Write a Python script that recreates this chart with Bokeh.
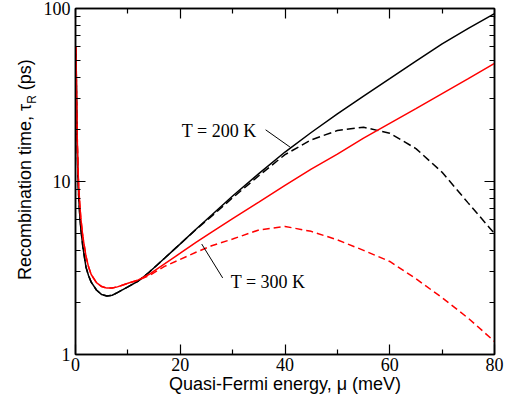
import math
from bokeh.plotting import figure
from bokeh.layouts import row
from bokeh.models import (Range1d, FixedTicker, LogAxis, LinearAxis, Label, Arrow, Div,
                          ColumnDataSource, PrintfTickFormatter, CustomJSTickFormatter)
from bokeh.embed import file_html
from bokeh.resources import INLINE

# Quasi-Fermi energy (meV)
mu = [0.1, 0.2, 0.3, 0.45, 0.6, 0.8, 1.0, 1.4, 2.0, 2.5, 3.0, 4.0, 5.0, 6.0, 7.0, 8.0,
      10, 12, 14, 17, 20, 23, 26, 30, 35, 40, 45, 50, 55, 60, 65, 70, 75, 80]

# Recombination time (ps)
tau_200_solid = [58, 30, 18, 11, 8.3, 6.5, 5.4, 4.2, 3.2, 2.85, 2.62, 2.36, 2.22, 2.18, 2.2, 2.28,
                 2.46, 2.66, 2.98, 3.6, 4.36, 5.3, 6.4, 8.25, 11.1, 14.8, 19.2, 24.6, 31.2, 39.3,
                 49.7, 62.5, 76.7, 93.5]
tau_200_dash = [58, 30, 18, 11, 8.3, 6.5, 5.4, 4.2, 3.2, 2.85, 2.62, 2.36, 2.22, 2.18, 2.2, 2.28,
                2.46, 2.66, 2.98, 3.6, 4.36, 5.28, 6.3, 8.05, 10.8, 14.3, 17.4, 19.7, 20.6, 19.0,
                15.5, 11.3, 7.5, 5.0]
tau_300_solid = [60, 32, 20, 12.5, 9.5, 7.5, 6.2, 4.8, 3.7, 3.2, 2.9, 2.6, 2.47, 2.42, 2.42, 2.46,
                 2.58, 2.7, 2.9, 3.34, 3.85, 4.45, 5.1, 6.1, 7.6, 9.5, 11.8, 14.4, 17.8, 21.7,
                 26.4, 32.2, 39.3, 48.2]
tau_300_dash = [60, 32, 20, 12.5, 9.5, 7.5, 6.2, 4.8, 3.7, 3.2, 2.9, 2.6, 2.47, 2.42, 2.42, 2.46,
                2.58, 2.69, 2.85, 3.23, 3.55, 3.9, 4.25, 4.65, 5.25, 5.5, 5.15, 4.6, 4.0, 3.45,
                2.74, 2.13, 1.62, 1.19]

x_ticks = [0, 20, 40, 60, 80]
x_minor = [10, 30, 50, 70]
y_ticks = [1, 10, 100]
y_minor = [2, 3, 4, 5, 6, 7, 8, 9, 20, 30, 40, 50, 60, 70, 80, 90]

src = ColumnDataSource(dict(mu=mu, a=tau_200_solid, b=tau_200_dash,
                            c=tau_300_solid, d=tau_300_dash))

DIV_W = 40
p = figure(width=509 - DIV_W, height=397, y_axis_type="log",
           x_range=Range1d(0, 80), y_range=Range1d(1, 100),
           output_backend="svg", toolbar_location=None,
           min_border_left=74 - DIV_W, min_border_right=15, min_border_top=8,
           min_border_bottom=43)
p.grid.visible = False
p.outline_line_color = "black"
p.outline_line_width = 1.5
p.background_fill_color = "white"
p.border_fill_color = "white"

p.line("mu", "a", source=src, line_color="black", line_width=1.5)
p.line("mu", "b", source=src, line_color="black", line_width=1.5, line_dash="8 4")
p.line("mu", "c", source=src, line_color="#ff0000", line_width=1.5)
p.line("mu", "d", source=src, line_color="#ff0000", line_width=1.5, line_dash="7 4")


def style(ax, ticks, minor, show_labels=True):
    ax.ticker = FixedTicker(ticks=ticks, minor_ticks=minor)
    ax.major_tick_in = 10
    ax.major_tick_out = 0
    ax.minor_tick_in = 5
    ax.minor_tick_out = 0
    ax.major_tick_line_color = "black"
    ax.minor_tick_line_color = "black"
    ax.major_tick_line_width = 1.2
    ax.minor_tick_line_width = 1.2
    ax.axis_line_color = "black"
    ax.axis_line_width = 1.5
    if show_labels:
        ax.major_label_text_font = "Liberation Serif"
        ax.major_label_text_font_size = "18px"
        ax.major_label_text_color = "black"
        ax.major_label_standoff = 3
    else:
        ax.formatter = CustomJSTickFormatter(code="return ''")
        ax.major_label_text_font_size = "1px"
        ax.major_label_text_color = None
        ax.major_label_standoff = 0


xb = p.below[0]
yl = p.left[0]
style(xb, x_ticks, x_minor)
style(yl, y_ticks, y_minor)
yl.major_label_standoff = 5
yl.formatter = PrintfTickFormatter(format="%d")

xb.axis_label = "Quasi-Fermi energy, μ (meV)"
xb.axis_label_text_font = "Liberation Sans"
xb.axis_label_text_font_size = "18px"
xb.axis_label_text_font_style = "normal"
xb.axis_label_text_color = "black"
xb.axis_label_standoff = 0

yr = LogAxis()
style(yr, y_ticks, y_minor, show_labels=False)
p.add_layout(yr, "right")
xt = LinearAxis()
style(xt, x_ticks, x_minor, show_labels=False)
p.add_layout(xt, "above")

# curve annotations
p.add_layout(Label(x=20.3, y=19.7, text="T = 200 K", text_align="left",
                   text_baseline="alphabetic", text_font="Liberation Serif",
                   text_font_size="18px", text_color="black"))
p.add_layout(Arrow(end=None, x_start=36.3, y_start=19.9, x_end=41.1, y_end=15.7,
                   line_color="black", line_width=1))
p.add_layout(Label(x=29.65, y=2.61, text="T = 300 K", text_align="left",
                   text_baseline="alphabetic", text_font="Liberation Serif",
                   text_font_size="18px", text_color="black"))
p.add_layout(Arrow(end=None, x_start=24.1, y_start=4.35, x_end=28.1, y_end=2.77,
                   line_color="black", line_width=1))

# y-axis title with a true subscript, as rotated HTML text
ytitle_html = (
    '<div style="position:relative;width:40px;height:397px;margin:0;padding:0;">'
    '<div style="position:absolute;left:14.6px;top:280px;transform-origin:0 0;'
    'transform:rotate(-90deg);white-space:nowrap;font-family:\'Liberation Sans\';'
    'font-size:18px;line-height:21px;color:#000;">'
    'Recombination time, τ<span style="font-size:12px;vertical-align:-5px;">R</span> (ps)'
    '</div></div>'
)
ytitle = Div(text=ytitle_html, width=DIV_W, height=397, margin=0,
             styles={"margin": "0", "padding": "0"})

layout = row(ytitle, p, spacing=0)
open("out.html", "w").write(file_html(layout, INLINE))
